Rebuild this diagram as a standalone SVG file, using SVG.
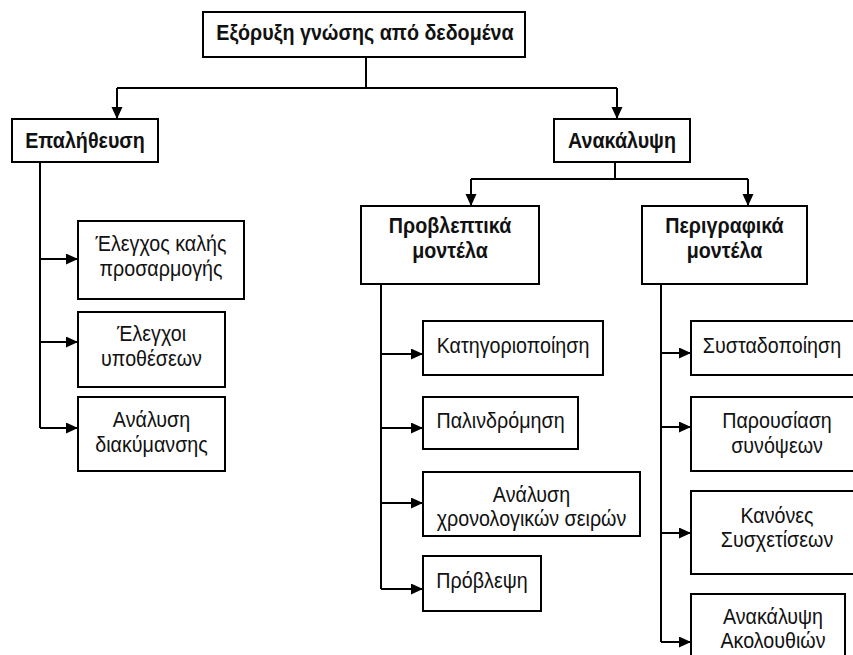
<svg xmlns="http://www.w3.org/2000/svg" width="853" height="655" viewBox="0 0 853 655">
  <style>
    .box { fill: #ffffff; stroke: #000000; stroke-width: 2; }
    .wire { fill: none; stroke: #000000; stroke-width: 2; }
    .lbl { font-family: "Liberation Sans", Arial, sans-serif; font-size: 19.7px; fill: #111111; text-anchor: middle; }
    .bold { font-weight: bold; }
  </style>
  <defs>
    <marker id="arrow" markerUnits="userSpaceOnUse" markerWidth="13" markerHeight="12" refX="12" refY="5.5" orient="auto">
      <path d="M0,0 L12,5.5 L0,11 z" fill="#000000"/>
    </marker>
  </defs>
  <rect width="853" height="655" fill="#ffffff"/>

  <!-- connectors -->
  <g id="connectors" class="wire">
    <path d="M366,57 V88"/>
    <path d="M117,88 H617"/>
    <path d="M117,88 V119" marker-end="url(#arrow)"/>
    <path d="M617,88 V119" marker-end="url(#arrow)"/>

    <path d="M40,162 V428"/>
    <path d="M40,259 H78" marker-end="url(#arrow)"/>
    <path d="M40,342 H78" marker-end="url(#arrow)"/>
    <path d="M40,428 H78" marker-end="url(#arrow)"/>

    <path d="M615,162 V179"/>
    <path d="M471,179 H748"/>
    <path d="M471,179 V206" marker-end="url(#arrow)"/>
    <path d="M748,179 V206" marker-end="url(#arrow)"/>

    <path d="M381,284 V589"/>
    <path d="M381,354 H423" marker-end="url(#arrow)"/>
    <path d="M381,428 H423" marker-end="url(#arrow)"/>
    <path d="M381,503 H423" marker-end="url(#arrow)"/>
    <path d="M381,589 H423" marker-end="url(#arrow)"/>

    <path d="M661,284 V642"/>
    <path d="M661,353 H691" marker-end="url(#arrow)"/>
    <path d="M661,427 H691" marker-end="url(#arrow)"/>
    <path d="M661,533 H691" marker-end="url(#arrow)"/>
    <path d="M661,642 H691" marker-end="url(#arrow)"/>
  </g>

  <!-- root (labels are drawn slightly tall: scale 1 x 1.12) -->
  <g id="root">
    <rect class="box" x="203" y="12" width="322" height="45"/>
    <text class="lbl bold" transform="translate(365 40) scale(1 1.12)">Εξόρυξη γνώσης από δεδομένα</text>
  </g>

  <!-- second level -->
  <g id="verification">
    <rect class="box" x="12" y="119" width="146" height="43"/>
    <text class="lbl bold" transform="translate(85 148) scale(1 1.12)">Επαλήθευση</text>
  </g>
  <g id="discovery">
    <rect class="box" x="554" y="119" width="136" height="43"/>
    <text class="lbl bold" transform="translate(622 148) scale(1 1.12)">Ανακάλυψη</text>
  </g>

  <!-- verification leaves -->
  <g id="goodness-of-fit">
    <rect class="box" x="78" y="221" width="166" height="78"/>
    <text class="lbl" transform="translate(161 251) scale(1 1.12)">Έλεγχος καλής</text>
    <text class="lbl" transform="translate(161 276) scale(1 1.12)">προσαρμογής</text>
  </g>
  <g id="hypothesis-tests">
    <rect class="box" x="78" y="312" width="147" height="75"/>
    <text class="lbl" transform="translate(151.5 341) scale(1 1.12)">Έλεγχοι</text>
    <text class="lbl" transform="translate(151.5 366) scale(1 1.12)">υποθέσεων</text>
  </g>
  <g id="anova">
    <rect class="box" x="78" y="397" width="147" height="74"/>
    <text class="lbl" transform="translate(151.5 427) scale(1 1.12)">Ανάλυση</text>
    <text class="lbl" transform="translate(151.5 452) scale(1 1.12)">διακύμανσης</text>
  </g>

  <!-- model families -->
  <g id="predictive">
    <rect class="box" x="361" y="206" width="178" height="78"/>
    <text class="lbl bold" transform="translate(450 233) scale(1 1.12)">Προβλεπτικά</text>
    <text class="lbl bold" transform="translate(450 258) scale(1 1.12)">μοντέλα</text>
  </g>
  <g id="descriptive">
    <rect class="box" x="642" y="206" width="165" height="78"/>
    <text class="lbl bold" transform="translate(724.5 233) scale(1 1.12)">Περιγραφικά</text>
    <text class="lbl bold" transform="translate(724.5 258) scale(1 1.12)">μοντέλα</text>
  </g>

  <!-- predictive leaves -->
  <g id="classification">
    <rect class="box" x="423" y="321" width="180" height="54"/>
    <text class="lbl" transform="translate(513 353) scale(1 1.12)">Κατηγοριοποίηση</text>
  </g>
  <g id="regression">
    <rect class="box" x="423" y="397" width="155" height="52"/>
    <text class="lbl" transform="translate(500.5 428) scale(1 1.12)">Παλινδρόμηση</text>
  </g>
  <g id="time-series">
    <rect class="box" x="423" y="472" width="217" height="64"/>
    <text class="lbl" transform="translate(531.5 502) scale(1 1.12)">Ανάλυση</text>
    <text class="lbl" transform="translate(531.5 526) scale(1 1.12)">χρονολογικών σειρών</text>
  </g>
  <g id="forecasting">
    <rect class="box" x="423" y="556" width="118" height="55"/>
    <text class="lbl" transform="translate(482 588) scale(1 1.12)">Πρόβλεψη</text>
  </g>

  <!-- descriptive leaves -->
  <g id="clustering">
    <rect class="box" x="691" y="321" width="167" height="54"/>
    <text class="lbl" transform="translate(772 353) scale(1 1.12)">Συσταδοποίηση</text>
  </g>
  <g id="summarisation">
    <rect class="box" x="691" y="397" width="172" height="74"/>
    <text class="lbl" transform="translate(777 428) scale(1 1.12)">Παρουσίαση</text>
    <text class="lbl" transform="translate(777 453) scale(1 1.12)">συνόψεων</text>
  </g>
  <g id="association-rules">
    <rect class="box" x="691" y="491" width="172" height="83"/>
    <text class="lbl" transform="translate(777 523) scale(1 1.12)">Κανόνες</text>
    <text class="lbl" transform="translate(777 547) scale(1 1.12)">Συσχετίσεων</text>
  </g>
  <g id="sequence-discovery">
    <rect class="box" x="691" y="594" width="154" height="75"/>
    <text class="lbl" transform="translate(773 624) scale(1 1.12)">Ανακάλυψη</text>
    <text class="lbl" transform="translate(773 648) scale(1 1.12)">Ακολουθιών</text>
  </g>
</svg>
